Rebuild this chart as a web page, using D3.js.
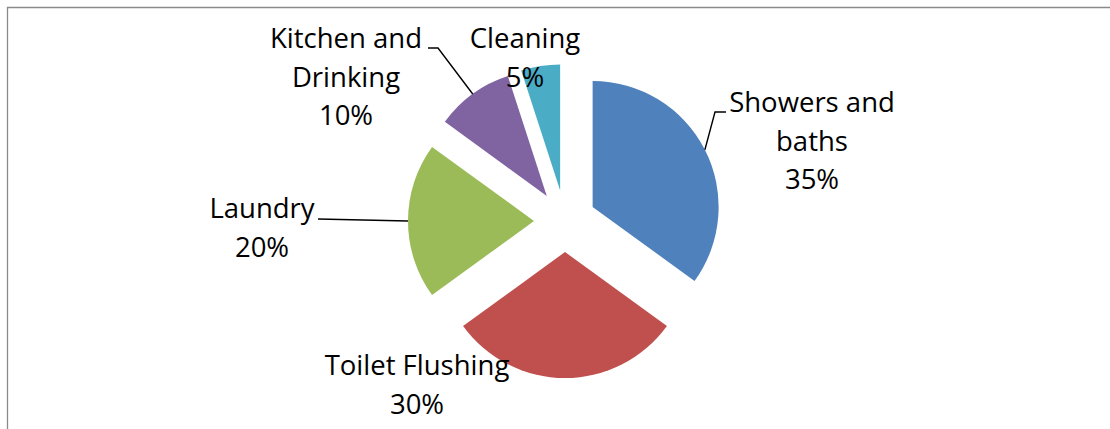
<!DOCTYPE html>
<html>
<head>
<meta charset="utf-8">
<script src="https://cdn.jsdelivr.net/npm/d3@7"></script>
<style>
  html, body { margin: 0; padding: 0; background: #fff; }
  svg { display: block; }
  text { font-family: "Open Sans", Lato, sans-serif; fill: #000; }
</style>
</head>
<body>
<svg id="chart" width="1110" height="429"></svg>
<script>
// Household water use by activity (percent of total)
const categories = ["Showers and baths", "Toilet Flushing", "Laundry", "Kitchen and Drinking", "Cleaning"];
const shares = [35, 30, 20, 10, 5];
const colors = ["#4F81BD", "#C0504D", "#9BBB59", "#8064A2", "#4BACC6"];

// Label text broken into lines, as it wraps on the chart
const labelLines = [
  ["Showers and", "baths"],
  ["Toilet Flushing"],
  ["Laundry"],
  ["Kitchen and", "Drinking"],
  ["Cleaning"]
];

// Layout
const W = 1110, H = 429;
const cx = 565, cy = 221;
const radius = 126;
const explode = 31;
const fontSize = 27.5;
const lineH = 38.5;

// label block: centre x, baseline of first line; leader: elbow points (null = no leader)
const labelLayout = [
  { x: 812, y: 112, leader: [[726, 112], [715, 112]] },
  { x: 417, y: 375, leader: null },
  { x: 262, y: 218, leader: [[318, 219]] },
  { x: 346, y: 48,  leader: [[428, 48], [438, 48]] },
  { x: 525, y: 48,  leader: null }
];

const svg = d3.select("#chart");

// chart frame (extends past the right and bottom edges)
svg.append("path")
  .attr("d", `M7.5,${H + 2} V7.5 H${W + 2}`)
  .attr("fill", "none")
  .attr("stroke", "#8a8a8a")
  .attr("stroke-width", 1.3);

const pie = d3.pie().sort(null).startAngle(0).endAngle(2 * Math.PI);
const arcs = pie(shares);
const arc = d3.arc().innerRadius(0).outerRadius(radius);

// offset of an exploded slice along its mid-angle
function offset(a) {
  const mid = (a.startAngle + a.endAngle) / 2;
  return [Math.sin(mid) * explode, -Math.cos(mid) * explode];
}

const g = svg.append("g").attr("transform", `translate(${cx},${cy})`);

g.selectAll("path.slice")
  .data(arcs)
  .join("path")
  .attr("class", "slice")
  .attr("d", arc)
  .attr("fill", (d, i) => colors[i])
  .attr("transform", d => { const o = offset(d); return `translate(${o[0]},${o[1]})`; });

// leader lines: from slice's outer mid-point through elbow points to label
arcs.forEach((a, i) => {
  const lay = labelLayout[i];
  if (!lay.leader) return;
  const mid = (a.startAngle + a.endAngle) / 2;
  const o = offset(a);
  const px = cx + o[0] + Math.sin(mid) * radius;
  const py = cy + o[1] - Math.cos(mid) * radius;
  const pts = [[px, py]].concat(lay.leader.slice().reverse());
  svg.append("path")
    .attr("d", d3.line()(pts))
    .attr("fill", "none")
    .attr("stroke", "#000")
    .attr("stroke-width", 1.4);
});

// labels
arcs.forEach((a, i) => {
  const lay = labelLayout[i];
  const lines = labelLines[i].concat([shares[i] + "%"]);
  const t = svg.append("text")
    .attr("text-anchor", "middle")
    .attr("font-size", fontSize);
  lines.forEach((s, k) => {
    t.append("tspan")
      .attr("x", lay.x)
      .attr("y", lay.y + k * lineH)
      .text(s);
  });
});
</script>
</body>
</html>
